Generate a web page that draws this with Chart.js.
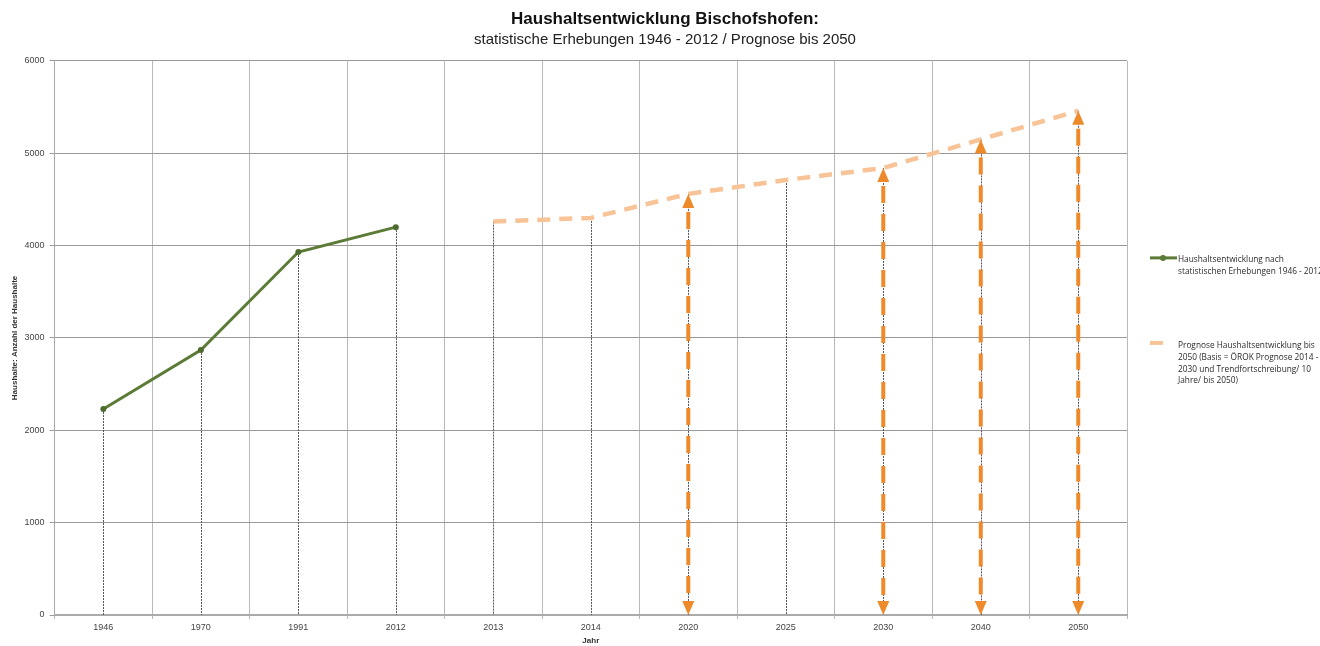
<!DOCTYPE html>
<html>
<head>
<meta charset="utf-8">
<script src="https://cdn.jsdelivr.net/npm/chart.js@4/dist/chart.umd.min.js"></script>
<style>
  html, body { margin: 0; padding: 0; background: #fff; overflow: hidden; }
  #wrap { width: 1320px; height: 646px; position: relative; }
</style>
</head>
<body>
<div id="wrap"><canvas id="haushaltChart"></canvas></div>
<script>
// ------------ Daten ------------------------------
const jahre = ['1946', '1970', '1991', '2012', '2013', '2014', '2020', '2025', '2030', '2040', '2050'];
const erhebungen = [2230, 2870, 3930, 4200, null, null, null, null, null, null, null];
const prognose = [null, null, null, null, 4260, 4300, 4560, 4710, 4840, 5150, 5460];
const pfeilJahre = ['2020', '2030', '2040', '2050'];
const yMax = 6000;
const yStep = 1000;

const legendeErhebung = ['Haushaltsentwicklung nach', 'statistischen Erhebungen 1946 - 2012'];
const legendePrognose = ['Prognose Haushaltsentwicklung bis', '2050 (Basis = ÖROK Prognose 2014 -',
  '2030 und Trendfortschreibung/ 10', 'Jahre/ bis 2050)'];

const gruen = '#5b7b36';
const pfirsich = '#f8c396';
const orange = '#ef8a2a';

// Lotlinien unter jedem Punkt + Doppelpfeile + Legende rechts
const lotPlugin = {
  id: 'lotlinien',
  beforeDatasetsDraw(chart) {
    const { ctx, scales: { x, y } } = chart;
    const y0 = y.getPixelForValue(0);
    ctx.save();
    ctx.strokeStyle = '#555';
    ctx.lineWidth = 1;
    ctx.setLineDash([2, 1]);
    jahre.forEach((j, i) => {
      const v = erhebungen[i] != null ? erhebungen[i] : prognose[i];
      if (v == null) return;
      const px = Math.round(x.getPixelForValue(i)) + 0.5;
      ctx.beginPath();
      ctx.moveTo(px, y.getPixelForValue(v));
      ctx.lineTo(px, y0);
      ctx.stroke();
    });
    ctx.restore();
  },
  afterDatasetsDraw(chart) {
    const { ctx, scales: { x, y } } = chart;
    const y0 = y.getPixelForValue(0);
    const kopf = 14, breite = 6;
    ctx.save();
    pfeilJahre.forEach(j => {
      const i = jahre.indexOf(j);
      const px = x.getPixelForValue(i);
      const top = y.getPixelForValue(prognose[i]);
      ctx.strokeStyle = orange;
      ctx.fillStyle = orange;
      ctx.lineWidth = 4;
      ctx.setLineDash([17, 11]);
      ctx.beginPath();
      ctx.moveTo(px, top + kopf + 4);
      ctx.lineTo(px, y0 - kopf);
      ctx.stroke();
      ctx.setLineDash([]);
      ctx.beginPath();
      ctx.moveTo(px, top);
      ctx.lineTo(px - breite, top + kopf);
      ctx.lineTo(px + breite, top + kopf);
      ctx.closePath();
      ctx.fill();
      ctx.beginPath();
      ctx.moveTo(px, y0);
      ctx.lineTo(px - breite, y0 - kopf);
      ctx.lineTo(px + breite, y0 - kopf);
      ctx.closePath();
      ctx.fill();
    });
    ctx.restore();
  },
  afterDraw(chart) {
    const { ctx, chartArea } = chart;
    const lx = chartArea.right + 23;
    const tx = chartArea.right + 51;
    ctx.save();
    ctx.font = '8.3px "Open Sans"';
    ctx.textBaseline = 'middle';
    // Erhebungen
    let ly = chartArea.top + 197;
    ctx.strokeStyle = gruen;
    ctx.lineWidth = 3;
    ctx.beginPath();
    ctx.moveTo(lx, ly);
    ctx.lineTo(lx + 27, ly);
    ctx.stroke();
    ctx.fillStyle = gruen;
    ctx.beginPath();
    ctx.arc(lx + 13, ly, 3, 0, Math.PI * 2);
    ctx.fill();
    ctx.fillStyle = '#2a2a2a';
    legendeErhebung.forEach((t, k) => ctx.fillText(t, tx, ly + 2 + k * 12));
    // Prognose
    ly = chartArea.top + 282;
    ctx.strokeStyle = pfirsich;
    ctx.lineWidth = 4;
    ctx.beginPath();
    ctx.moveTo(lx, ly);
    ctx.lineTo(lx + 13, ly);
    ctx.stroke();
    legendePrognose.forEach((t, k) => ctx.fillText(t, tx, ly + 3 + k * 11.7));
    ctx.restore();
  }
};

const tickFont = { family: 'Liberation Sans', size: 9 };
const axisTitleFont = { family: 'Liberation Sans', size: 8, weight: 'bold', lineHeight: 1 };

const ctx = document.getElementById('haushaltChart').getContext('2d');
const haushaltChart = new Chart(ctx, {
  type: 'line',
  data: {
    labels: jahre,
    datasets: [{
      label: legendeErhebung.join(' '),
      data: erhebungen,
      borderColor: gruen,
      backgroundColor: '#4e6b2e',
      borderWidth: 3,
      pointRadius: 3,
      pointBackgroundColor: '#4e6b2e',
      pointBorderWidth: 0
    }, {
      label: legendePrognose.join(' '),
      data: prognose,
      borderColor: pfirsich,
      backgroundColor: pfirsich,
      borderWidth: 4.5,
      borderDash: [13, 9],
      pointRadius: 0
    }]
  },
  options: {
    responsive: true,
    maintainAspectRatio: false,
    animation: false,
    layout: { padding: { left: 10, right: 0, top: 0, bottom: 0 } },
    scales: {
      x: {
        offset: true,
        grid: { offset: true, color: '#b8b8b8', lineWidth: 1, tickLength: 4 },
        border: { color: '#aaa', width: 2 },
        ticks: { color: '#444', font: { ...tickFont, lineHeight: 1 }, padding: 4, maxRotation: 0 },
        title: { display: true, text: 'Jahr', color: '#333', font: axisTitleFont, padding: { top: 1, bottom: 1 } }
      },
      y: {
        min: 0,
        max: yMax,
        grid: { color: '#999', lineWidth: 1, tickLength: 5 },
        border: { color: '#aaa', width: 1 },
        ticks: { stepSize: yStep, color: '#444', font: tickFont, padding: 5, callback: v => String(v) },
        title: { display: true, text: 'Haushalte: Anzahl der Haushalte', color: '#333', font: { ...axisTitleFont, lineHeight: 1.2 }, padding: { top: 0, bottom: 0 } }
      },
      // leere Achse rechts als Platz für die Legende
      legende: {
        type: 'linear',
        position: 'right',
        grid: { display: false },
        border: { display: false },
        ticks: { display: false },
        afterFit: s => { s.width = 193; }
      }
    },
    plugins: {
      legend: { display: false },
      tooltip: { enabled: false },
      title: {
        display: true,
        text: 'Haushaltsentwicklung Bischofshofen:',
        color: '#111',
        font: { family: 'Liberation Sans', size: 17, weight: 'bold' },
        padding: { top: 9, bottom: 1 }
      },
      subtitle: {
        display: true,
        text: 'statistische Erhebungen 1946 - 2012 / Prognose bis 2050',
        color: '#222',
        font: { family: 'Liberation Sans', size: 15 },
        padding: { top: 0.5, bottom: 12 }
      }
    }
  },
  plugins: [lotPlugin]
});
</script>
</body>
</html>
